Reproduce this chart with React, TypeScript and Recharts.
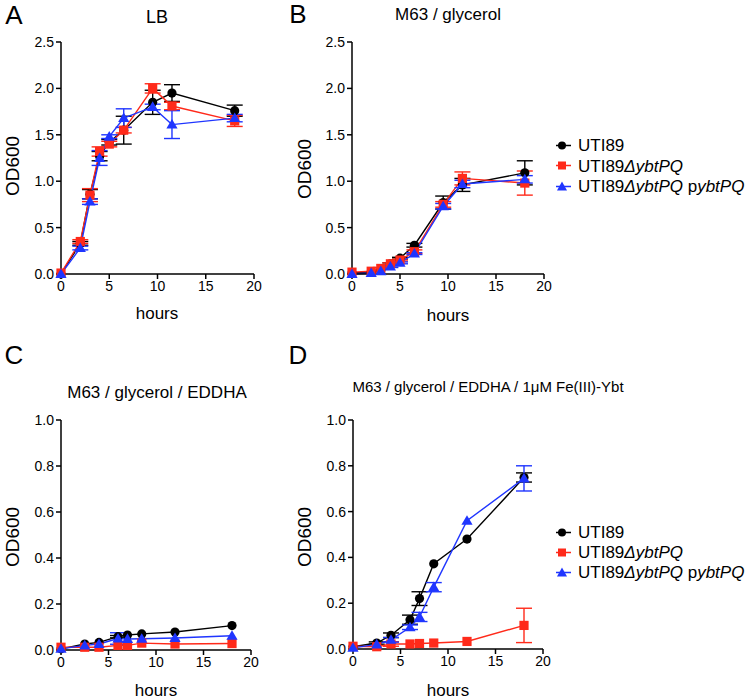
import React from 'react';
import { LineChart, Line, XAxis, YAxis, ErrorBar } from 'recharts';

const FONT = 'Arial, "Liberation Sans", Helvetica, sans-serif';
const BLACK = '#000000';
const RED = '#ff2a1a';
const BLUE = '#1f35ff';

// ---------- Panel A: LB ----------
const lbHours = [0, 2, 3, 4, 5, 6.5, 9.5, 11.5, 18];
const lbWT = [0.0, 0.33, 0.86, 1.27, 1.42, 1.55, 1.85, 1.95, 1.76];
const lbWTErr = [0, 0.02, 0.05, 0.05, 0.03, 0.15, 0.13, 0.09, 0.06];
const lbDel = [0.01, 0.35, 0.85, 1.32, 1.4, 1.55, 2.0, 1.81, 1.65];
const lbDelErr = [0, 0.02, 0.07, 0.05, 0.03, 0.03, 0.05, 0.04, 0.06];
const lbComp = [0.0, 0.28, 0.78, 1.25, 1.48, 1.68, 1.8, 1.61, 1.68];
const lbCompErr = [0, 0.02, 0.03, 0.08, 0.02, 0.1, 0.03, 0.15, 0.04];

// ---------- Panel B: M63 / glycerol ----------
const glyHours = [0, 2, 3, 4, 5, 6.5, 9.5, 11.5, 18];
const glyWT = [0.01, 0.02, 0.04, 0.11, 0.17, 0.31, 0.77, 0.96, 1.09];
const glyWTErr = [0, 0, 0, 0.01, 0.01, 0.02, 0.07, 0.07, 0.13];
const glyDel = [0.02, 0.03, 0.06, 0.11, 0.15, 0.24, 0.75, 1.03, 0.98];
const glyDelErr = [0, 0, 0.01, 0.01, 0.01, 0.02, 0.03, 0.07, 0.13];
const glyComp = [0.0, 0.01, 0.03, 0.08, 0.12, 0.22, 0.73, 0.97, 1.02];
const glyCompErr = [0, 0, 0, 0.01, 0.01, 0.01, 0.03, 0.04, 0.04];

// ---------- Panel C: M63 / glycerol / EDDHA ----------
const eddHours = [0, 2.5, 4, 6, 7, 8.5, 12, 18];
const eddWT = [0.005, 0.026, 0.033, 0.058, 0.065, 0.07, 0.078, 0.106];
const eddWTErr = [0, 0, 0, 0.005, 0, 0, 0, 0];
const eddDel = [0.012, 0.012, 0.012, 0.02, 0.02, 0.03, 0.026, 0.028];
const eddDelErr = [0, 0, 0, 0, 0, 0, 0, 0];
const eddComp = [0.005, 0.02, 0.026, 0.05, 0.048, 0.049, 0.052, 0.062];
const eddCompErr = [0, 0, 0, 0.025, 0, 0, 0, 0];

// ---------- Panel D: M63 / glycerol / EDDHA / 1μM Fe(III)-Ybt ----------
const feHours = [0, 2.5, 4, 6, 7, 8.5, 12, 18];
const feWT = [0.01, 0.026, 0.06, 0.128, 0.22, 0.372, 0.48, 0.749];
const feWTErr = [0, 0.005, 0.01, 0.02, 0.03, 0, 0, 0.02];
const feDel = [0.012, 0.01, 0.022, 0.022, 0.024, 0.026, 0.033, 0.103];
const feDelErr = [0, 0, 0.01, 0, 0, 0, 0, 0.075];
const feComp = [0.005, 0.02, 0.04, 0.095, 0.14, 0.27, 0.56, 0.745];
const feCompErr = [0, 0, 0.01, 0.01, 0.02, 0.02, 0, 0.055];

const xTicks = [0, 5, 10, 15, 20];
const yTicksWide = [0, 0.5, 1.0, 1.5, 2.0, 2.5];
const yTicksNarrow = [0, 0.2, 0.4, 0.6, 0.8, 1.0];

function buildRows(hours: number[], wt: number[], wtErr: number[], del: number[], delErr: number[], comp: number[], compErr: number[]) {
  return hours.map((t, i) => ({
    t,
    wt: wt[i],
    wtErr: wtErr[i],
    del: del[i],
    delErr: delErr[i],
    comp: comp[i],
    compErr: compErr[i],
  }));
}

const dataA = buildRows(lbHours, lbWT, lbWTErr, lbDel, lbDelErr, lbComp, lbCompErr);
const dataB = buildRows(glyHours, glyWT, glyWTErr, glyDel, glyDelErr, glyComp, glyCompErr);
const dataC = buildRows(eddHours, eddWT, eddWTErr, eddDel, eddDelErr, eddComp, eddCompErr);
const dataD = buildRows(feHours, feWT, feWTErr, feDel, feDelErr, feComp, feCompErr);

const CircleDot = (p: any) => {
  if (p.cx == null || p.cy == null) return <g key={`c${p.index}`} />;
  return <circle key={`c${p.index}`} cx={p.cx} cy={p.cy} r={4.6} fill={BLACK} />;
};
const SquareDot = (p: any) => {
  if (p.cx == null || p.cy == null) return <g key={`s${p.index}`} />;
  return <rect key={`s${p.index}`} x={p.cx - 4.6} y={p.cy - 4.6} width={9.2} height={9.2} fill={RED} />;
};
const TriDot = (p: any) => {
  if (p.cx == null || p.cy == null) return <g key={`t${p.index}`} />;
  const { cx, cy } = p;
  return <polygon key={`t${p.index}`} points={`${cx},${cy - 5.6} ${cx + 5.6},${cy + 4} ${cx - 5.6},${cy + 4}`} fill={BLUE} />;
};

const tickStyle = { fill: '#000', fontSize: 14, fontFamily: FONT };
const axisLineStyle = { stroke: '#000', strokeWidth: 1.5 };

function Panel(props: {
  left: number; top: number; width: number; height: number;
  margin: { top: number; right: number; bottom: number; left: number };
  yWidth: number; data: any[]; yMax: number; yTicks: number[];
}) {
  const { left, top, width, height, margin, yWidth, data, yMax, yTicks } = props;
  return (
    <div style={{ position: 'absolute', left, top }}>
      <LineChart width={width} height={height} data={data} margin={margin}>
        <XAxis
          type="number"
          dataKey="t"
          domain={[0, 20]}
          ticks={xTicks}
          interval={0}
          height={30}
          axisLine={axisLineStyle}
          tickLine={axisLineStyle}
          tickSize={5}
          tick={tickStyle}
        />
        <YAxis
          type="number"
          domain={[0, yMax]}
          ticks={yTicks}
          interval={0}
          width={yWidth}
          axisLine={axisLineStyle}
          tickLine={axisLineStyle}
          tickSize={5}
          tick={tickStyle}
          tickFormatter={(v: number) => v.toFixed(1)}
        />
        <Line dataKey="wt" stroke={BLACK} strokeWidth={1.4} dot={CircleDot} activeDot={false} isAnimationActive={false}>
          <ErrorBar dataKey="wtErr" width={8} stroke={BLACK} strokeWidth={1.4} direction="y" />
        </Line>
        <Line dataKey="del" stroke={RED} strokeWidth={1.4} dot={SquareDot} activeDot={false} isAnimationActive={false}>
          <ErrorBar dataKey="delErr" width={8} stroke={RED} strokeWidth={1.4} direction="y" />
        </Line>
        <Line dataKey="comp" stroke={BLUE} strokeWidth={1.4} dot={TriDot} activeDot={false} isAnimationActive={false}>
          <ErrorBar dataKey="compErr" width={8} stroke={BLUE} strokeWidth={1.4} direction="y" />
        </Line>
      </LineChart>
    </div>
  );
}

function Txt(props: { x: number; y: number; size: number; children: React.ReactNode }) {
  const { x, y, size, children } = props;
  return (
    <div
      style={{
        position: 'absolute',
        left: x,
        top: y,
        transform: 'translate(-50%, -50%)',
        fontFamily: FONT,
        fontSize: size,
        lineHeight: 1,
        whiteSpace: 'nowrap',
        color: '#000',
      }}
    >
      {children}
    </div>
  );
}

function RotTxt(props: { x: number; y: number; size: number; children: React.ReactNode }) {
  const { x, y, size, children } = props;
  return (
    <div
      style={{
        position: 'absolute',
        left: x,
        top: y,
        transform: 'translate(-50%, -50%) rotate(-90deg)',
        fontFamily: FONT,
        fontSize: size,
        lineHeight: 1,
        whiteSpace: 'nowrap',
        color: '#000',
      }}
    >
      {children}
    </div>
  );
}

function LegendBlock(props: { x: number; y: number; gap: number }) {
  const { x, y, gap } = props;
  const rows = [
    { color: BLACK, shape: 'circle', label: <span>UTI89</span> },
    { color: RED, shape: 'square', label: <span>UTI89<i>ΔybtPQ</i></span> },
    { color: BLUE, shape: 'tri', label: <span>UTI89<i>ΔybtPQ</i> p<i>ybtPQ</i></span> },
  ];
  return (
    <div style={{ position: 'absolute', left: x, top: y }}>
      {rows.map((r, i) => (
        <div key={i} style={{ position: 'absolute', left: 0, top: i * gap, display: 'flex', alignItems: 'center', transform: 'translateY(-50%)' }}>
          <svg width={20} height={14} style={{ display: 'block' }}>
            <line x1={2} y1={7} x2={17} y2={7} stroke={r.color} strokeWidth={1.4} />
            {r.shape === 'circle' && <circle cx={8} cy={7} r={4} fill={r.color} />}
            {r.shape === 'square' && <rect x={4} y={3} width={8} height={8} fill={r.color} />}
            {r.shape === 'tri' && <polygon points="8,2 13,11 3,11" fill={r.color} />}
          </svg>
          <span style={{ fontFamily: FONT, fontSize: 17, marginLeft: 4, whiteSpace: 'nowrap', lineHeight: 1 }}>{r.label}</span>
        </div>
      ))}
    </div>
  );
}

export default function App() {
  return (
    <div style={{ position: 'absolute', left: 0, top: 0, width: 750, height: 698, background: '#fff', overflow: 'hidden' }}>
      <Panel left={0} top={0} width={270} height={330} margin={{ top: 42, right: 16, bottom: 26, left: 0 }} yWidth={61} data={dataA} yMax={2.5} yTicks={yTicksWide} />
      <Panel left={290} top={0} width={270} height={330} margin={{ top: 42, right: 16, bottom: 26, left: 0 }} yWidth={62} data={dataB} yMax={2.5} yTicks={yTicksWide} />
      <Panel left={0} top={340} width={270} height={358} margin={{ top: 80, right: 19, bottom: 18, left: 0 }} yWidth={61} data={dataC} yMax={1.0} yTicks={yTicksNarrow} />
      <Panel left={290} top={340} width={270} height={358} margin={{ top: 80, right: 17, bottom: 19, left: 0 }} yWidth={63} data={dataD} yMax={1.0} yTicks={yTicksNarrow} />

      <Txt x={14} y={15} size={26}>A</Txt>
      <Txt x={298} y={14} size={26}>B</Txt>
      <Txt x={14} y={355} size={26}>C</Txt>
      <Txt x={298} y={355} size={26}>D</Txt>

      <Txt x={157} y={17} size={18}>LB</Txt>
      <Txt x={448} y={14} size={17}>M63 / glycerol</Txt>
      <Txt x={157} y={392} size={17}>M63 / glycerol / EDDHA</Txt>
      <Txt x={488} y={386} size={15}>M63 / glycerol / EDDHA / 1μM Fe(III)-Ybt</Txt>

      <Txt x={157} y={313} size={17}>hours</Txt>
      <Txt x={448} y={315} size={17}>hours</Txt>
      <Txt x={156} y={690} size={17}>hours</Txt>
      <Txt x={448} y={690} size={17}>hours</Txt>

      <RotTxt x={12} y={166} size={19}>OD600</RotTxt>
      <RotTxt x={304} y={169} size={19}>OD600</RotTxt>
      <RotTxt x={12} y={537} size={19}>OD600</RotTxt>
      <RotTxt x={304} y={537} size={19}>OD600</RotTxt>

      <LegendBlock x={554} y={145} gap={20.5} />
      <LegendBlock x={554} y={532} gap={20} />
    </div>
  );
}
